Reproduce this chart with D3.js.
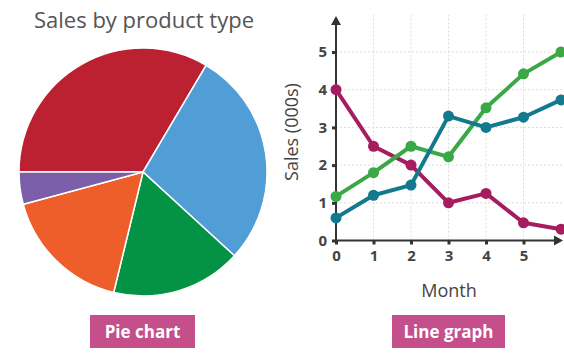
<!DOCTYPE html>
<html>
<head>
<meta charset="utf-8">
<script src="https://cdn.jsdelivr.net/npm/d3@7"></script>
<style>
  body { margin: 0; background: #fff; }
  svg { display: block; font-family: "Open Sans", "Noto Sans", sans-serif; }
</style>
</head>
<body>
<script>
// pie data (share of sales, %)
const pieTypes = ["A", "B", "C", "D", "E"];
const pieValues = [33.5, 28.3, 17, 17, 4.2];
const pieColors = ["#bc2131", "#519dd6", "#049245", "#ee5e2a", "#7a5fa8"];

// line data
const months = [0, 1, 2, 3, 4, 5, 6];
const seriesMagenta = [4, 2.5, 2, 1, 1.25, 0.47, 0.3];
const seriesGreen = [1.17, 1.8, 2.5, 2.22, 3.52, 4.42, 5];
const seriesTeal = [0.6, 1.2, 1.47, 3.3, 3.0, 3.27, 3.73];
const lineColors = ["#a51d5e", "#3aa845", "#13798e"];
const yTicks = [0, 1, 2, 3, 4, 5];
const xTicks = [0, 1, 2, 3, 4, 5];

const w = 564;
const h = 354;
const svg = d3.select("body")
  .append("svg")
  .attr("width", w)
  .attr("height", h);

// ---- pie chart ----
svg.append("text")
  .text("Sales by product type")
  .attr("x", 144)
  .attr("y", 28)
  .attr("text-anchor", "middle")
  .style("font-size", "22px")
  .style("fill", "#555");

const pie = d3.pie()
  .sort(null)
  .startAngle(-Math.PI / 2)
  .endAngle(Math.PI * 1.5);

const arc = d3.arc().innerRadius(0).outerRadius(124);

const pieG = svg.append("g").attr("transform", "translate(143,172)");
pieG.selectAll("path")
  .data(pie(pieValues))
  .join("path")
  .attr("d", arc)
  .style("fill", (d, i) => pieColors[i])
  .style("stroke", "#fff")
  .style("stroke-width", 1.5);

// ---- line graph ----
const x = d3.scaleLinear().domain([0, 6]).range([336, 561]);
const y = d3.scaleLinear().domain([0, 5]).range([240.5, 52]);

// grid
svg.append("g")
  .selectAll("line")
  .data(yTicks.slice(1))
  .join("line")
  .attr("x1", x(0))
  .attr("x2", w)
  .attr("y1", d => y(d))
  .attr("y2", d => y(d))
  .style("stroke", "#ddd")
  .style("stroke-dasharray", "2,2");

svg.append("g")
  .selectAll("line")
  .data(xTicks.slice(1))
  .join("line")
  .attr("x1", d => x(d))
  .attr("x2", d => x(d))
  .attr("y1", y(0))
  .attr("y2", 15)
  .style("stroke", "#ddd")
  .style("stroke-dasharray", "2,2");

// axes
const yAxis = svg.append("g")
  .attr("transform", `translate(${x(0)},0)`)
  .call(d3.axisLeft(y).tickValues(yTicks).tickFormat(d3.format("d")).tickSize(4).tickPadding(5));
const xAxis = svg.append("g")
  .attr("transform", `translate(0,${y(0)})`)
  .call(d3.axisBottom(x).tickValues(xTicks).tickFormat(d3.format("d")).tickSize(4).tickPadding(6));

[yAxis, xAxis].forEach(g => {
  g.select(".domain").remove();
  g.selectAll(".tick line").style("stroke", "#333").style("stroke-width", 3);
  g.selectAll(".tick text")
    .style("font-size", "15px")
    .style("font-weight", "bold")
    .style("fill", "#444")
    .style("font-family", "'Open Sans', sans-serif");
});

const axisCol = "#333";
svg.append("line")
  .attr("x1", x(0)).attr("x2", x(0))
  .attr("y1", y(0) + 1).attr("y2", 24)
  .style("stroke", axisCol).style("stroke-width", 2);
svg.append("path")
  .attr("d", `M${x(0) - 5},25 L${x(0)},16 L${x(0) + 5},25 Z`)
  .style("fill", axisCol);
svg.append("line")
  .attr("x1", x(0) - 1).attr("x2", 555)
  .attr("y1", y(0)).attr("y2", y(0))
  .style("stroke", axisCol).style("stroke-width", 2);
svg.append("path")
  .attr("d", `M554,${y(0) - 5} L563,${y(0)} L554,${y(0) + 5} Z`)
  .style("fill", axisCol);

// lines
const line = d3.line()
  .x((d, i) => x(months[i]))
  .y(d => y(d));

[seriesMagenta, seriesGreen, seriesTeal].forEach((s, k) => {
  svg.append("path")
    .attr("d", line(s))
    .style("fill", "none")
    .style("stroke", lineColors[k])
    .style("stroke-width", 4)
    .style("stroke-linejoin", "round");
  svg.append("g")
    .selectAll("circle")
    .data(s)
    .join("circle")
    .attr("cx", (d, i) => x(months[i]))
    .attr("cy", d => y(d))
    .attr("r", 5.5)
    .style("fill", lineColors[k]);
});

// axis titles
svg.append("text")
  .text("Month")
  .attr("x", 449)
  .attr("y", 297)
  .attr("text-anchor", "middle")
  .style("font-size", "18px")
  .style("fill", "#444");

svg.append("text")
  .text("Sales (000s)")
  .attr("transform", "translate(298,132) rotate(-90)")
  .attr("text-anchor", "middle")
  .style("font-size", "18px")
  .style("fill", "#444");

// labels (buttons)
const buttons = [
  { label: "Pie chart", x: 90, w: 105 },
  { label: "Line graph", x: 392, w: 113 }
];
const btn = svg.selectAll("g.btn")
  .data(buttons)
  .join("g")
  .attr("class", "btn");
btn.append("rect")
  .attr("x", d => d.x)
  .attr("y", 315)
  .attr("width", d => d.w)
  .attr("height", 33)
  .style("fill", "#c44f8a");
btn.append("text")
  .text(d => d.label)
  .attr("x", d => d.x + d.w / 2)
  .attr("y", 338)
  .attr("text-anchor", "middle")
  .style("font-size", "17px")
  .style("font-weight", "bold")
  .style("fill", "#fff");
</script>
</body>
</html>
